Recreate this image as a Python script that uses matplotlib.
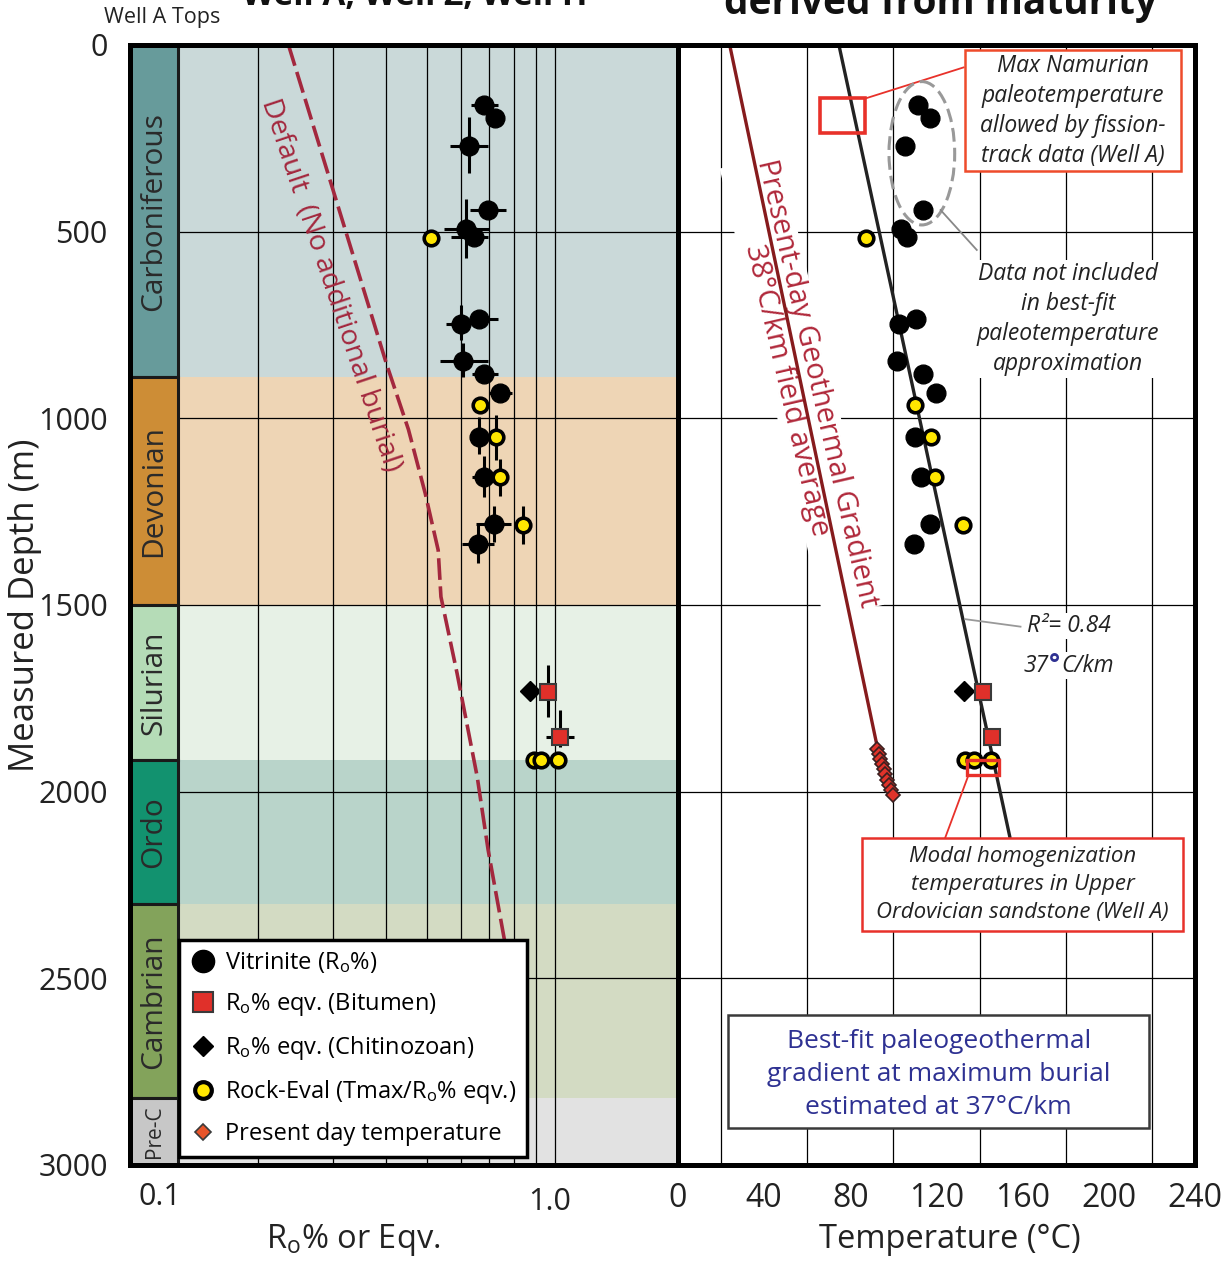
import numpy as np
import matplotlib.pyplot as plt
from matplotlib.patches import Rectangle, Ellipse
from matplotlib.lines import Line2D
from matplotlib.transforms import blended_transform_factory, ScaledTranslation

plt.rcParams['font.family'] = ['Open Sans', 'DejaVu Sans']
plt.rcParams['mathtext.default'] = 'regular'

# --- stratigraphy (Well A tops, m)
units = ['Carboniferous', 'Devonian', 'Silurian', 'Ordo', 'Cambrian', 'Pre-C']
unit_top = [0, 890, 1500, 1915, 2300, 2820]
unit_base = [890, 1500, 1915, 2300, 2820, 3000]
unit_col = ['#679b9b', '#cd8d36', '#b5dcb7', '#12926f', '#83a35b', '#c7c7c7']
unit_shade = ['#cad9d9', '#eed5b5', '#e7f1e6', '#b9d4ca', '#d3dbc3', '#e2e2e2']
unit_fs = [21.5, 21.5, 21.5, 21.5, 21.5, 15]

# --- vitrinite samples
vit_depth = [161, 196, 271, 442, 493, 514, 746, 735, 846, 882, 933, 1049, 1156, 1283, 1337]
vit_ro = [0.680, 0.721, 0.628, 0.694, 0.616, 0.643, 0.602, 0.663, 0.609, 0.682, 0.744,
          0.661, 0.682, 0.717, 0.658]
vit_ro_lo = [0.633, 0.70, 0.565, 0.630, 0.549, 0.570, 0.555, 0.636, 0.536, 0.637, 0.70,
             0.661, 0.637, 0.650, 0.605]
vit_ro_hi = [0.734, 0.760, 0.696, 0.766, 0.698, 0.696, 0.631, 0.734, 0.696, 0.734, 0.79,
             0.661, 0.717, 0.787, 0.720]
vit_d_lo = [161, 196, 194, 442, 413, 514, 696, 735, 799, 882, 933, 996, 1101, 1236, 1287]
vit_d_hi = [161, 196, 344, 442, 570, 514, 790, 735, 888, 882, 933, 1096, 1211, 1330, 1387]
vit_temp = [111.6, 116.9, 105.3, 113.9, 103.3, 106.5, 102.5, 110.3, 101.7, 113.6, 119.9,
            109.9, 112.8, 117.2, 109.6]

# --- Rock-Eval
re_depth = [518, 964, 1051, 1158, 1286, 1915, 1915, 1915]
re_ro = [0.510, 0.665, 0.725, 0.741, 0.842, 0.89, 0.925, 1.015]
re_d_err = [0, 0, 60, 50, 50, 0, 0, 0]
re_temp = [87.3, 109.9, 117.4, 119.4, 132.1, 133.4, 137.6, 145.5]

# --- chitinozoan / bitumen
chit_depth = [1730]
chit_ro = [0.872]
chit_temp = [132.7]
bit_depth = [1734, 1853]
bit_ro = [0.963, 1.03]
bit_ro_lo = [0.963, 0.95]
bit_ro_hi = [0.99, 1.11]
bit_d_lo = [1661, 1781]
bit_d_hi = [1799, 1881]
bit_temp = [141.7, 145.8]

# --- present-day temperatures
pd_depth = [1885, 1898, 1912, 1926, 1940, 1954, 1968, 1982, 1996, 2008]
pd_temp = [92.5, 93.2, 94.0, 94.8, 95.5, 96.3, 97.0, 97.8, 98.8, 99.8]

# --- lines
default_depth = [0, 370, 853, 1030, 1201, 1353, 1478, 1682, 1960, 2156, 2396, 2450]
default_ro = [0.236, 0.297, 0.401, 0.452, 0.495, 0.531, 0.539, 0.588, 0.656, 0.696, 0.76, 0.775]
pd_line_depth = [0, 1880]
pd_line_temp = [24.0, 92.5]
fit_depth = [0, 2120]
fit_temp = [74.7, 154.0]

depth_ticks = [0, 500, 1000, 1500, 2000, 2500, 3000]
ro_grid = [0.2, 0.3, 0.4, 0.5, 0.6, 0.7, 0.8, 0.9, 1.0]
temp_ticks = [0, 40, 80, 120, 160, 200, 240]
temp_grid = [20, 40, 60, 80, 100, 120, 140, 160, 180, 200, 220]

W, H = 1228, 1263
fig = plt.figure(figsize=(W / 100, H / 100), dpi=100)
axL = fig.add_axes([130 / W, 1 - 1165 / H, 548 / W, 1120 / H])
axR = fig.add_axes([678 / W, 1 - 1165 / H, 517 / W, 1120 / H])

col_w = 48 / 548
frame_lw = 3.6

# ---------------- left panel
axL.set_xscale('log')
axL.set_xlim(0.1, 1.947)
axL.set_ylim(3000, 0)
ytr = axL.get_yaxis_transform()
for name, top, base, c, s, fs in zip(units, unit_top, unit_base, unit_col, unit_shade, unit_fs):
    axL.add_patch(Rectangle((col_w, top), 1 - col_w, base - top, transform=ytr,
                            facecolor=s, edgecolor='none', zorder=0.2))
    axL.add_patch(Rectangle((0, top), col_w, base - top, transform=ytr,
                            facecolor=c, edgecolor='#1a1a1a', lw=2.2, zorder=3))
    axL.text(col_w / 2, (top + base) / 2, name, transform=ytr, rotation=90,
             ha='center', va='center', fontsize=fs, color='#2a2a2a', zorder=4)

axL.set_axisbelow(True)
axL.set_xticks([])
axL.set_xticks(ro_grid, minor=True)
axL.set_xticklabels([], minor=True)
axL.set_yticks(depth_ticks)
axL.set_yticklabels([str(d) for d in depth_ticks], fontsize=22, color='#222222')
axL.tick_params(axis='both', which='both', length=0)
axL.tick_params(axis='y', pad=16)
axL.grid(True, which='minor', axis='x', color='black', lw=0.9)
axL.grid(True, which='major', axis='y', color='black', lw=0.9)
for sp in axL.spines.values():
    sp.set_linewidth(frame_lw)
    sp.set_zorder(6)

axL.plot(default_ro, default_depth, color='#a3283e', lw=2.6, dashes=(6, 1.8), zorder=4)
axL.text(0.296, 643, 'Default  (No additional burial)', rotation=-71.5, rotation_mode='anchor',
         ha='center', va='center', fontsize=20.5, color='#a3283e', zorder=4)

vx = np.array(vit_ro)
axL.errorbar(vit_ro, vit_depth,
             xerr=[vx - np.array(vit_ro_lo), np.array(vit_ro_hi) - vx],
             yerr=[np.array(vit_depth) - np.array(vit_d_lo), np.array(vit_d_hi) - np.array(vit_depth)],
             fmt='none', ecolor='black', elinewidth=2.2, capsize=0, zorder=5)
axL.errorbar(re_ro, re_depth, yerr=re_d_err, fmt='none', ecolor='black', elinewidth=2.2,
             capsize=0, zorder=5)
bx = np.array(bit_ro)
axL.errorbar(bit_ro, bit_depth,
             xerr=[bx - np.array(bit_ro_lo), np.array(bit_ro_hi) - bx],
             yerr=[np.array(bit_depth) - np.array(bit_d_lo), np.array(bit_d_hi) - np.array(bit_depth)],
             fmt='none', ecolor='black', elinewidth=2.2, capsize=0, zorder=5)


def draw_points(ax, vit_x, re_x, chit_x, bit_x):
    ax.plot(vit_x, vit_depth, 'o', color='black', ms=13.5, zorder=7)
    ax.plot(chit_x, chit_depth, 'D', color='black', ms=10, zorder=7)
    ax.plot(bit_x, bit_depth, 's', mfc='#e0302a', mec='#3a3a3a', mew=1.5, ms=11, zorder=7)
    ax.plot(re_x, re_depth, 'o', mfc='#ffe600', mec='black', mew=2.6, ms=10.5, zorder=8)


draw_points(axL, vit_ro, re_ro, chit_ro, bit_ro)

handles = [
    Line2D([], [], marker='o', ls='none', color='black', ms=16),
    Line2D([], [], marker='s', ls='none', mfc='#e0302a', mec='#3a3a3a', mew=1.5, ms=14),
    Line2D([], [], marker='D', ls='none', color='black', ms=10),
    Line2D([], [], marker='o', ls='none', mfc='#ffe600', mec='black', mew=3, ms=12),
    Line2D([], [], marker='D', ls='none', mfc='#e8552a', mec='#3a3a3a', mew=1.2, ms=8.5),
]
labels = ['Vitrinite (R$_o$%)', 'R$_o$% eqv. (Bitumen)', 'R$_o$% eqv. (Chitinozoan)',
          'Rock-Eval (Tmax/R$_o$% eqv.)', 'Present day temperature']
leg = axL.legend(handles, labels, loc='lower left', bbox_to_anchor=(0.0894, 0.0071),
                 frameon=True, fancybox=False, edgecolor='black', framealpha=1,
                 fontsize=17, handletextpad=0.4, labelspacing=0.68, borderpad=0.45,
                 handlelength=1.1, borderaxespad=0)
leg.get_frame().set_linewidth(2.5)
leg.set_zorder(10)

btr = blended_transform_factory(axL.transData, axL.transAxes)
axL.text(0.1, -0.015, '0.1', transform=btr + ScaledTranslation(30 / 100, 0, fig.dpi_scale_trans),
         ha='center', va='top', fontsize=22, color='#222222')
axL.text(1.0, -0.02, '1.0', transform=btr + ScaledTranslation(-5 / 100, 0, fig.dpi_scale_trans),
         ha='center', va='top', fontsize=22, color='#222222')

# ---------------- right panel
axR.set_xlim(0, 240)
axR.set_ylim(3000, 0)
axR.set_axisbelow(True)
axR.set_xticks(temp_ticks)
axR.set_xticklabels([str(t) for t in temp_ticks], fontsize=23, color='#222222')
axR.set_xticks(temp_grid, minor=True)
axR.set_yticks(depth_ticks)
axR.set_yticklabels([])
axR.tick_params(axis='both', which='both', length=0)
axR.tick_params(axis='x', pad=12)
axR.grid(True, which='minor', axis='x', color='black', lw=0.9)
axR.grid(True, which='major', axis='y', color='black', lw=0.9)
for sp in axR.spines.values():
    sp.set_linewidth(frame_lw)
    sp.set_zorder(6)

axR.plot(pd_line_temp, pd_line_depth, color='#861b1d', lw=2.4, zorder=4)
axR.plot(fit_temp, fit_depth, color='#222222', lw=2.4, zorder=4)
axR.plot(pd_temp, pd_depth, 'D', mfc='#e0332a', mec='#3a2020', mew=1.2, ms=7, zorder=6)
draw_points(axR, vit_temp, re_temp, chit_temp, bit_temp)

axR.text(57.5, 915, 'Present-day Geothermal Gradient\n38°C/km field average', rotation=-77,
         rotation_mode='anchor', ha='center', va='center', fontsize=21, color='#b0283a',
         linespacing=1.05, zorder=3,
         bbox=dict(facecolor='white', edgecolor='none', pad=1))

# fission-track box and annotation
axR.add_patch(Rectangle((66, 143), 21, 94, fill=False, edgecolor='#e8312a', lw=2.6, zorder=5))
axR.plot([87.1, 132.6], [143, 60], color='#e8312a', lw=1.3, zorder=5)
axR.add_patch(Rectangle((133, 13), 100.7, 324, facecolor='white', edgecolor='#ee4b2b',
                        lw=1.8, zorder=5))
axR.text(183.3, 176, 'Max Namurian\npaleotemperature\nallowed by fission-\ntrack data (Well A)',
         ha='center', va='center', fontsize=16.5, style='italic', color='#222222',
         linespacing=1.34, zorder=6)

# ellipse of excluded data
axR.add_patch(Ellipse((113.2, 290), 30.5, 384, fill=False, edgecolor='#999999', lw=2.2,
                      ls=(0, (4.5, 2)), zorder=5))
axR.plot([121.9, 138.7], [442, 549], color='#888888', lw=1.3, zorder=5)
axR.text(181, 734, 'Data not included\nin best-fit\npaleotemperature\napproximation',
         ha='center', va='center', fontsize=16.5, style='italic', color='#222222',
         linespacing=1.32, zorder=5, bbox=dict(facecolor='white', edgecolor='none', pad=2))

# R2 annotation
axR.plot([133.4, 159], [1538, 1558], color='#999999', lw=1.3, zorder=5)
axR.text(181.5, 1556, 'R²= 0.84', ha='center', va='center', fontsize=16.5, style='italic',
         color='#222222', zorder=5, bbox=dict(facecolor='white', edgecolor='none', pad=1))
t37 = axR.text(160.5, 1663, '37', ha='left', va='center', fontsize=16.5, style='italic',
               color='#222222', zorder=5, bbox=dict(facecolor='white', edgecolor='none', pad=1))
axR.annotate('°', xy=(1, 0), xycoords=t37, ha='left', va='bottom', fontsize=19,
             fontweight='bold', color='#2e3192', zorder=5)
axR.annotate('C/km', xy=(1, 0), xycoords=t37, xytext=(9, 0), textcoords='offset points',
             ha='left', va='bottom', fontsize=16.5, style='italic', color='#222222', zorder=5,
             bbox=dict(facecolor='white', edgecolor='none', pad=1))

# fluid inclusion box and annotation
axR.add_patch(Rectangle((134.3, 1915), 14.8, 40, fill=False, edgecolor='#e8312a', lw=2.4, zorder=9))
axR.plot([134.7, 124.0], [1958, 2124], color='#e8312a', lw=1.3, zorder=5)
axR.add_patch(Rectangle((85.5, 2125), 149, 248, facecolor='white', edgecolor='#e8312a',
                        lw=1.8, zorder=5))
axR.text(160, 2249, 'Modal homogenization\ntemperatures in Upper\nOrdovician sandstone (Well A)',
         ha='center', va='center', fontsize=16, style='italic', color='#222222',
         linespacing=1.42, zorder=6)

axR.add_patch(Rectangle((23, 2598), 195.8, 304, facecolor='white', edgecolor='#3a3a3a',
                        lw=1.8, zorder=5))
axR.text(121, 2757, 'Best-fit paleogeothermal\ngradient at maximum burial\nestimated at 37°C/km',
         ha='center', va='center', fontsize=19, color='#2e3192', linespacing=1.42, zorder=6)

# ---------------- figure texts
fig.text(25 / W, 1 - 605 / H, 'Measured Depth (m)', rotation=90, ha='center', va='center',
         fontsize=25, color='#222222')
fig.text(353 / W, 1 - 1240 / H, 'R$_o$% or Eqv.', ha='center', va='center', fontsize=23.5,
         color='#222222')
fig.text(950 / W, 1 - 1240 / H, 'Temperature (°C)', ha='center', va='center', fontsize=23.5,
         color='#222222')
fig.text(162 / W, 1 - 18 / H, 'Well A Tops', ha='center', va='center', fontsize=15.5,
         color='#222222')
fig.text(415 / W, 1 - 5 / H, 'Well A, Well Z, Well H', ha='center', va='baseline',
         fontsize=24, fontweight='bold', color='#111111')
fig.text(940 / W, 1 - 14 / H, 'derived from maturity', ha='center', va='baseline',
         fontsize=28, fontweight='bold', color='#111111')

fig.savefig('out.png', dpi=100)
